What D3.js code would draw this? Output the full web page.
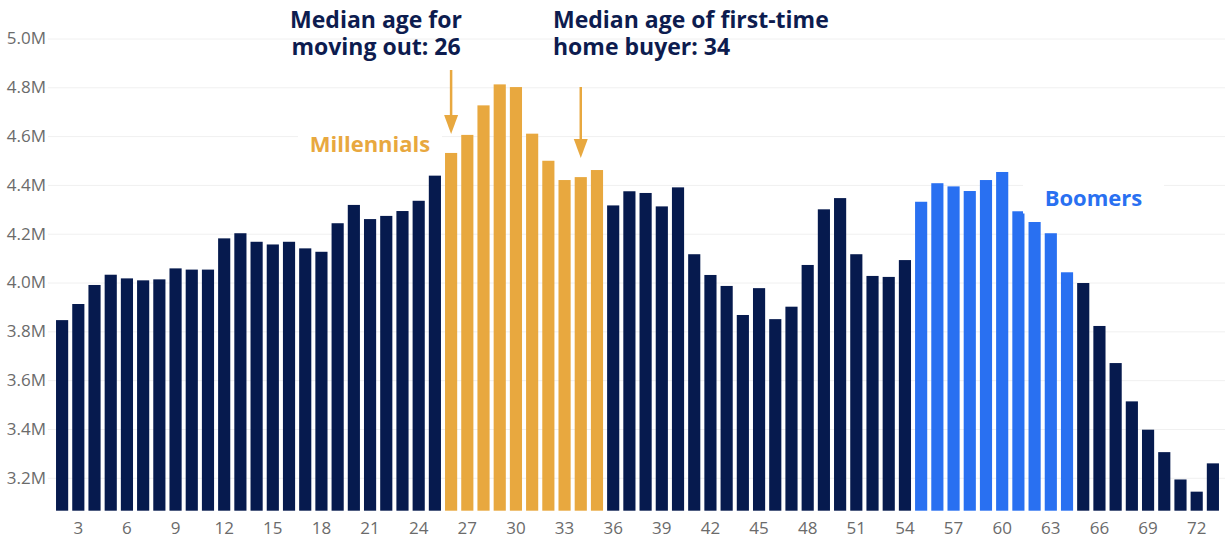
<!DOCTYPE html>
<html>
<head>
<meta charset="utf-8">
<script src="https://cdn.jsdelivr.net/npm/d3@7"></script>
<style>
body { margin: 0; background: #fff; }
* { font-family: 'Open Sans', sans-serif; }
</style>
</head>
<body>
<svg id="chart"></svg>
<script>
// population by single year of age, in millions
const ages = d3.range(2, 74);
const population = [
  3.846, 3.912, 3.990, 4.032, 4.017, 4.009, 4.013, 4.058, 4.053, 4.053,
  4.181, 4.202, 4.167, 4.156, 4.167, 4.140, 4.126, 4.243, 4.318, 4.260,
  4.273, 4.293, 4.335, 4.438, 4.531, 4.605, 4.726, 4.812, 4.801, 4.610,
  4.499, 4.420, 4.432, 4.461, 4.316, 4.374, 4.367, 4.312, 4.390, 4.116,
  4.031, 3.986, 3.867, 3.977, 3.850, 3.901, 4.072, 4.300, 4.346, 4.116,
  4.027, 4.023, 4.092, 4.331, 4.407, 4.394, 4.375, 4.420, 4.453, 4.292,
  4.248, 4.202, 4.042, 3.998, 3.822, 3.670, 3.513, 3.397, 3.305, 3.193,
  3.143, 3.259
];
const millennialAges = [26, 27, 28, 29, 30, 31, 32, 33, 34, 35];
const boomerAges = [55, 56, 57, 58, 59, 60, 61, 62, 63, 64];
const xTicks = [3, 6, 9, 12, 15, 18, 21, 24, 27, 30, 33, 36, 39, 42, 45, 48, 51, 54, 57, 60, 63, 66, 69, 72];
const yTicks = [3.2, 3.4, 3.6, 3.8, 4.0, 4.2, 4.4, 4.6, 4.8, 5.0];
const medianMoveOut = 26;
const medianFirstBuyer = 34;

const navy = '#061a4e';
const gold = '#e8a83f';
const blue = '#2970f1';

const width = 1225, height = 539;
const svg = d3.select('#chart').attr('width', width).attr('height', height);

const x = d3.scaleBand()
  .domain(ages)
  .range([54, 1221])
  .paddingInner(0.25)
  .paddingOuter(0.125);

const y = d3.scaleLinear()
  .domain([3.065, 5.0])
  .range([510.7, 38.5]);

// gridlines + y labels
const yAxis = svg.append('g')
  .attr('transform', 'translate(48,0)')
  .call(d3.axisLeft(y)
    .tickValues(yTicks)
    .tickFormat(d => d.toFixed(1) + 'M')
    .tickSize(-(width - 48))
    .tickPadding(2));
yAxis.select('.domain').remove();
yAxis.selectAll('.tick line').attr('stroke', '#f0f0f0');
yAxis.selectAll('.tick text')
  .attr('fill', '#6b6b6b')
  .style('font-size', '17px');

// bars
const data = ages.map((a, i) => ({ age: a, value: population[i] }));
function barColor(a) {
  if (millennialAges.includes(a)) return gold;
  if (boomerAges.includes(a)) return blue;
  return navy;
}
svg.append('g')
  .selectAll('rect')
  .data(data)
  .enter()
  .append('rect')
  .attr('x', d => x(d.age))
  .attr('width', x.bandwidth())
  .attr('y', d => y(d.value))
  .attr('height', d => y.range()[0] - y(d.value))
  .attr('fill', d => barColor(d.age));

// x axis
const xAxis = svg.append('g')
  .attr('transform', `translate(0,${y.range()[0]})`)
  .call(d3.axisBottom(x)
    .tickValues(xTicks)
    .tickSize(0)
    .tickPadding(11));
xAxis.select('.domain').remove();
xAxis.selectAll('.tick text')
  .attr('fill', '#6b6b6b')
  .style('font-size', '17px');

// generation labels
function label(cx, baseline, w, text, color) {
  svg.append('rect')
    .attr('x', cx - w / 2)
    .attr('y', baseline - 34)
    .attr('width', w)
    .attr('height', 42)
    .attr('fill', '#fff');
  svg.append('text')
    .attr('x', cx)
    .attr('y', baseline)
    .attr('text-anchor', 'middle')
    .attr('fill', color)
    .style('font-size', '22px')
    .style('font-weight', 700)
    .text(text);
}
label(370, 152, 144, 'Millennials', gold);
label(1093.5, 205.5, 141, 'Boomers', blue);

// median annotations
function arrow(age, yStart) {
  const cx = x(age) + x.bandwidth() / 2;
  const tip = y(population[ages.indexOf(age)]) - 19;
  svg.append('line')
    .attr('x1', cx).attr('x2', cx)
    .attr('y1', yStart).attr('y2', tip - 10)
    .attr('stroke', gold)
    .attr('stroke-width', 2.5);
  svg.append('path')
    .attr('d', `M${cx - 7},${tip - 19}L${cx + 7},${tip - 19}L${cx},${tip}Z`)
    .attr('fill', gold);
}
arrow(medianMoveOut, 70);
arrow(medianFirstBuyer, 87);

function note(xPos, anchor, lines) {
  const t = svg.append('text')
    .attr('text-anchor', anchor)
    .attr('fill', '#0d1c4f')
    .style('font-size', '23px')
    .style('font-weight', 700);
  lines.forEach((l, i) => {
    t.append('tspan').attr('x', xPos).attr('y', 27.5 + i * 27.5).text(l);
  });
}
note(376, 'middle', ['Median age for', 'moving out: ' + medianMoveOut]);
note(553, 'start', ['Median age of first-time', 'home buyer: ' + medianFirstBuyer]);
</script>
</body>
</html>
